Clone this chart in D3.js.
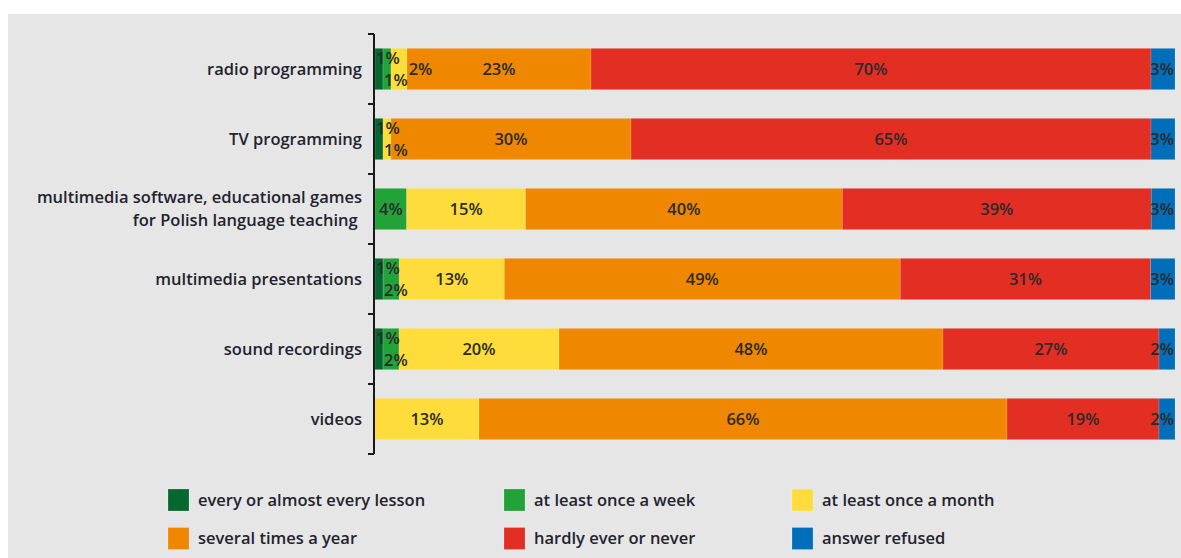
<!DOCTYPE html>
<html>
<head>
<meta charset="utf-8">
<script src="https://cdn.jsdelivr.net/npm/d3@7"></script>
<style>
  html, body { margin: 0; padding: 0; background: #fff; }
  svg { display: block; font-family: "Open Sans", Lato, sans-serif; }
</style>
</head>
<body>
<div id="chart"></div>
<script>
// Frequency of use of media in Polish lessons - 100% stacked bars

const categories = [
  ["radio programming"],
  ["TV programming"],
  ["multimedia software, educational games", "for Polish language teaching\u00a0"],
  ["multimedia presentations"],
  ["sound recordings"],
  ["videos"]
];

const seriesNames = [
  "every or almost every lesson",
  "at least once a week",
  "at least once a month",
  "several times a year",
  "hardly ever or never",
  "answer refused"
];

const seriesColors = ["#05692f", "#23a23a", "#fddc3b", "#ef8800", "#e32e23", "#016eb9"];

// one row per category, values in series order (%)
const everyLesson   = [1, 1, 0, 1, 1, 0];
const onceAWeek     = [1, 0, 4, 2, 2, 0];
const onceAMonth    = [2, 1, 15, 13, 20, 13];
const severalAYear  = [23, 30, 40, 49, 48, 66];
const hardlyEver    = [70, 65, 39, 31, 27, 19];
const refused       = [3, 3, 3, 3, 2, 2];

const seriesValues = [everyLesson, onceAWeek, onceAMonth, severalAYear, hardlyEver, refused];

const W = 1181, H = 558;
const axisX = 375, barRight = 1175;
const plotTop = 34, plotBottom = 454;

const svg = d3.select("#chart").append("svg")
  .attr("width", W)
  .attr("height", H);

// gray panel
svg.append("rect")
  .attr("x", 8).attr("y", 14)
  .attr("width", W - 8).attr("height", H - 14)
  .attr("fill", "#e6e6e6");

const keys = categories.map(c => c.join(" "));

const y = d3.scaleBand()
  .domain(keys)
  .range([plotTop, plotBottom])
  .paddingInner(0.41)
  .paddingOuter(0.205);

const x = d3.scaleLinear().domain([0, 100]).range([axisX, barRight]);

// rows: normalise so every bar fills 100%
const rows = keys.map((k, i) => {
  const vals = seriesValues.map(s => s[i]);
  const total = d3.sum(vals);
  let acc = 0;
  const segs = vals.map((v, j) => {
    const s = { key: k, row: i, series: j, value: v, x0: acc / total * 100, x1: (acc + v) / total * 100 };
    acc += v;
    return s;
  });
  return { key: k, label: categories[i], segs: segs };
});

const allSegs = rows.flatMap(r => r.segs).filter(d => d.value > 0);

svg.append("g")
  .selectAll("rect")
  .data(allSegs)
  .join("rect")
  .attr("x", d => x(d.x0))
  .attr("y", d => y(d.key))
  .attr("width", d => x(d.x1) - x(d.x0))
  .attr("height", y.bandwidth())
  .attr("fill", d => seriesColors[d.series])
  .attr("stroke", "rgba(255,255,255,0.25)")
  .attr("stroke-width", 0.6);

// value labels
const labelG = svg.append("g")
  .attr("font-size", "16.5px")
  .attr("font-weight", 600)
  .attr("fill", "#2b2b2b");

rows.forEach(r => {
  const cy = y(r.key) + y.bandwidth() / 2;
  const segs = r.segs.filter(d => d.value > 0);
  let slot = 0;
  let prevEnd = null;
  segs.forEach((d, idx) => {
    const t = labelG.append("text")
      .attr("dy", "0.36em")
      .text(d.value + "%");
    const tw = t.node().getComputedTextLength();
    const w = x(d.x1) - x(d.x0);
    const leading = idx < segs.length - 1 && d.x0 < 5;
    if (leading && w < tw + 4) {
      // small leading segments: stagger top, bottom, middle
      const offs = [-10.5, 11, 0];
      let lx = x(d.x0) + 1;
      if (slot === 2 && prevEnd != null) lx = Math.max(lx, prevEnd + 1);
      t.attr("x", lx).attr("y", cy + offs[slot]).attr("text-anchor", "start");
      prevEnd = Math.max(prevEnd || 0, lx + tw);
      slot++;
    } else {
      let cx = (x(d.x0) + x(d.x1)) / 2;
      cx = Math.min(cx, barRight - 1 - tw / 2);
      t.attr("x", cx).attr("y", cy).attr("text-anchor", "middle");
    }
  });
});

// axis with ticks on band boundaries
const axisG = svg.append("g")
  .attr("stroke", "#1a1a1a")
  .attr("stroke-width", 2);

axisG.append("line")
  .attr("x1", axisX - 1).attr("x2", axisX - 1)
  .attr("y1", plotTop).attr("y2", plotBottom);

axisG.selectAll(".tick")
  .data(d3.range(keys.length + 1))
  .join("line")
  .attr("class", "tick")
  .attr("x1", axisX - 7).attr("x2", axisX - 1)
  .attr("y1", i => plotTop + i * y.step())
  .attr("y2", i => plotTop + i * y.step());

// category labels
const catG = svg.append("g")
  .attr("font-size", "16.5px")
  .attr("font-weight", 600)
  .attr("fill", "#22232e")
  .attr("text-anchor", "end");

rows.forEach(r => {
  const cy = y(r.key) + y.bandwidth() / 2;
  const n = r.label.length;
  const t = catG.append("text")
    .attr("x", 362)
    .attr("y", cy);
  r.label.forEach((line, i) => {
    t.append("tspan")
      .attr("x", 362)
      .attr("y", cy + (i - (n - 1) / 2) * 23)
      .attr("dy", "0.35em")
      .text(line);
  });
});

// legend
const legendCols = [168, 504, 792];
const legendRows = [500, 538.5];

const legend = svg.append("g")
  .selectAll("g")
  .data(seriesNames)
  .join("g")
  .attr("transform", (d, i) => `translate(${legendCols[i % 3]},${legendRows[Math.floor(i / 3)]})`);

legend.append("rect")
  .attr("x", 0).attr("y", -11)
  .attr("width", 21).attr("height", 22)
  .attr("fill", (d, i) => seriesColors[i])
  .attr("stroke", "rgba(255,255,255,0.3)")
  .attr("stroke-width", 0.6);

legend.append("text")
  .attr("x", 30)
  .attr("dy", "0.35em")
  .attr("font-size", "16.5px")
  .attr("font-weight", 600)
  .attr("fill", "#22232e")
  .text(d => d);
</script>
</body>
</html>
